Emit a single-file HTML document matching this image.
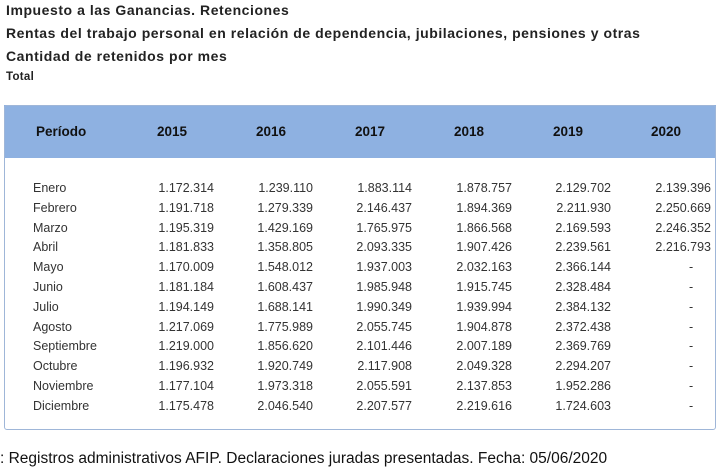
<!DOCTYPE html>
<html><head><meta charset="utf-8"><style>
body{margin:0;width:720px;height:470px;background:#fff;position:relative;overflow:hidden;font-family:"Liberation Sans",sans-serif;color:#222}
.t{position:absolute;left:6px;font-weight:bold;font-size:14px;letter-spacing:0.55px;color:#222;white-space:nowrap}
#tbl{position:absolute;left:4px;top:105px;width:712px;height:325px;border:1px solid #9fb6d8;border-radius:3px;box-sizing:border-box}
#hdr{position:absolute;left:4px;top:105px;width:712px;height:53px;background:#8eb1e1}
.h{position:absolute;top:124px;font-weight:bold;font-size:13.5px;color:#111}
.c{position:absolute;font-size:12.5px;color:#333;white-space:nowrap}
#src{position:absolute;left:0;top:450px;font-size:15.5px;color:#111;white-space:nowrap}
</style></head><body>
<div class="t" style="top:2px">Impuesto a las Ganancias. Retenciones</div>
<div class="t" style="top:25px">Rentas del trabajo personal en relación de dependencia, jubilaciones, pensiones y otras</div>
<div class="t" style="top:48px">Cantidad de retenidos por mes</div>
<div class="t" style="top:71px;font-size:11.5px;letter-spacing:0.3px">Total</div>
<div id="hdr"></div>
<div id="tbl"></div>
<div id="src">: Registros administrativos AFIP. Declaraciones juradas presentadas. Fecha: 05/06/2020</div>
<script>
const years=["2015","2016","2017","2018","2019","2020"];
const months=["Enero","Febrero","Marzo","Abril","Mayo","Junio","Julio","Agosto","Septiembre","Octubre","Noviembre","Diciembre"];
const v2015=["1.172.314","1.191.718","1.195.319","1.181.833","1.170.009","1.181.184","1.194.149","1.217.069","1.219.000","1.196.932","1.177.104","1.175.478"];
const v2016=["1.239.110","1.279.339","1.429.169","1.358.805","1.548.012","1.608.437","1.688.141","1.775.989","1.856.620","1.920.749","1.973.318","2.046.540"];
const v2017=["1.883.114","2.146.437","1.765.975","2.093.335","1.937.003","1.985.948","1.990.349","2.055.745","2.101.446","2.117.908","2.055.591","2.207.577"];
const v2018=["1.878.757","1.894.369","1.866.568","1.907.426","2.032.163","1.915.745","1.939.994","1.904.878","2.007.189","2.049.328","2.137.853","2.219.616"];
const v2019=["2.129.702","2.211.930","2.169.593","2.239.561","2.366.144","2.328.484","2.384.132","2.372.438","2.369.769","2.294.207","1.952.286","1.724.603"];
const v2020=["2.139.396","2.250.669","2.246.352","2.216.793","-","-","-","-","-","-","-","-"];
const series=[v2015,v2016,v2017,v2018,v2019,v2020];
const rightEdges=[214,313,412,512,611,711];
const hdrCenters=[172,271,370,469,568,666];
function add(txt,cls,style,name){const d=document.createElement('div');d.className=cls;d.textContent=txt;Object.assign(d.style,style);


document.body.appendChild(d);return d;}
add("Período","h",{left:"36px"},"header-periodo");
years.forEach((y,i)=>{add(y,"h",{left:(hdrCenters[i]-30)+"px",width:"60px",textAlign:"center"},"header-"+y);});
months.forEach((m,r)=>{const top=(181+r*19.8)+"px";
add(m,"c",{left:"33px",top:top},"row-label-"+m.toLowerCase());
series.forEach((s,i)=>{const val=s[r];
if(val==="-")add(val,"c",{left:(rightEdges[i]-22)+"px",top:top},"cell-"+years[i]+"-"+m.toLowerCase());
else add(val,"c",{left:(rightEdges[i]-80)+"px",width:"80px",textAlign:"right",top:top},"cell-"+years[i]+"-"+m.toLowerCase());});
});
</script>
</body></html>
